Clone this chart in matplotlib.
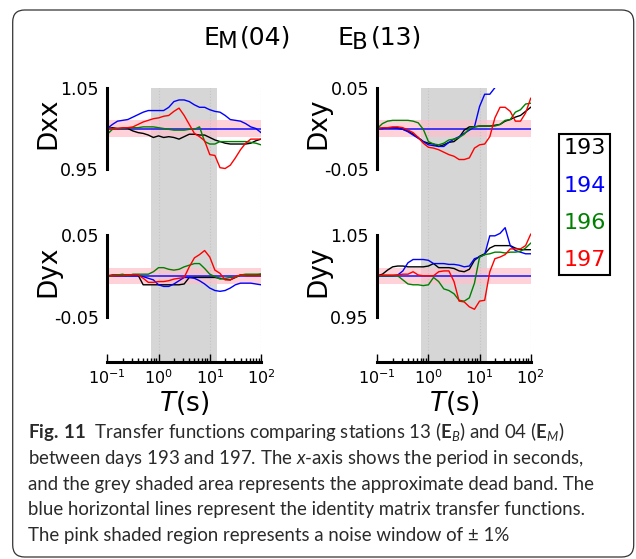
import numpy as np
import matplotlib.pyplot as plt
from matplotlib.lines import Line2D
from matplotlib.patches import FancyBboxPatch

plt.rcParams['font.family'] = 'DejaVu Sans'
plt.rcParams['mathtext.fontset'] = 'dejavusans'
# fonts used by the caption's math pieces (math_fontfamily='custom')
plt.rcParams['mathtext.rm'] = 'Lato'
plt.rcParams['mathtext.it'] = 'Lato:italic'
plt.rcParams['mathtext.bf'] = 'Lato:bold'

# period grid, 10 samples per decade from 0.1 s to 100 s
log_period = np.linspace(-1, 2, 31)
periods = 10 ** log_period

days = ['193', '194', '196', '197']
day_colors = ['black', 'blue', 'green', 'red']

dead_band = (0.7, 14.0)
noise = 0.01

dxx_193 = [1.000, 1.001, 1.000, 1.000, 1.000, 0.997, 0.995, 0.994, 0.992, 0.989, 0.991,
           0.989, 0.990, 0.989, 0.987, 0.990, 0.993, 0.993, 0.992, 0.992, 0.989,
           0.986, 0.984, 0.982, 0.981, 0.981, 0.981, 0.981, 0.982, 0.985, 0.987]
dxx_194 = [1.000, 1.005, 1.009, 1.010, 1.011, 1.014, 1.017, 1.020, 1.022, 1.022, 1.022,
           1.022, 1.026, 1.033, 1.035, 1.035, 1.033, 1.029, 1.026, 1.026, 1.023,
           1.021, 1.020, 1.016, 1.011, 1.010, 1.009, 1.006, 1.002, 1.000, 0.995]
dxx_196 = [0.993, 0.999, 1.000, 1.000, 1.001, 1.001, 1.001, 1.002, 1.002, 1.002, 1.001,
           1.000, 0.999, 0.998, 0.998, 0.998, 0.999, 0.999, 1.002, 0.984, 0.981,
           0.981, 0.984, 0.984, 0.984, 0.984, 0.984, 0.984, 0.983, 0.982, 0.980]
dxx_197 = [1.000, 1.000, 1.000, 1.001, 1.001, 1.002, 1.005, 1.008, 1.010, 1.012, 1.013,
           1.015, 1.016, 1.021, 1.025, 1.016, 1.005, 0.994, 0.990, 0.985, 0.968,
           0.967, 0.952, 0.951, 0.955, 0.964, 0.974, 0.982, 0.987, 0.987, 0.987]

dxy_193 = [0.000, 0.000, 0.001, 0.001, 0.001, -0.001, -0.003, -0.007, -0.011, -0.016, -0.018,
           -0.019, -0.022, -0.020, -0.017, -0.016, -0.011, -0.002, 0.002, 0.002, 0.003,
           0.003, 0.003, 0.004, 0.005, 0.009, 0.011, 0.014, 0.016, 0.021, 0.026]
dxy_194 = [0.000, 0.000, 0.001, 0.001, 0.000, -0.001, -0.004, -0.008, -0.012, -0.016, -0.020,
           -0.021, -0.022, -0.022, -0.017, -0.013, -0.010, -0.006, -0.002, 0.002, 0.027,
           0.042, 0.042, 0.050, 0.055, 0.055, 0.053, 0.053, 0.053, 0.053, 0.060]
dxy_196 = [0.000, 0.006, 0.009, 0.010, 0.010, 0.010, 0.010, 0.009, 0.007, -0.001, -0.016,
           -0.019, -0.020, -0.018, -0.014, -0.013, -0.011, -0.007, 0.000, 0.002, 0.003,
           0.003, 0.003, 0.003, 0.005, 0.010, 0.011, 0.020, 0.023, 0.030, 0.031]
dxy_197 = [0.000, 0.001, 0.001, 0.002, 0.002, 0.001, -0.002, -0.005, -0.011, -0.018, -0.023,
           -0.024, -0.026, -0.029, -0.032, -0.034, -0.038, -0.038, -0.036, -0.024, -0.020,
           -0.019, -0.010, 0.013, 0.026, 0.026, 0.021, 0.009, 0.009, 0.019, 0.037]

dyx_193 = [0.000, 0.001, 0.001, 0.001, 0.001, 0.001, 0.001, -0.011, -0.011, -0.011, -0.011,
           -0.011, -0.011, -0.011, -0.011, -0.010, -0.002, -0.002, -0.002, -0.002, -0.002,
           -0.002, -0.003, -0.004, -0.005, -0.002, 0.001, 0.001, 0.001, 0.001, 0.002]
dyx_194 = [0.000, 0.000, 0.000, 0.000, 0.000, 0.000, 0.000, -0.001, -0.003, -0.005, -0.011,
           -0.013, -0.013, -0.010, -0.006, -0.002, -0.002, -0.003, -0.006, -0.010, -0.015,
           -0.018, -0.019, -0.018, -0.015, -0.011, -0.009, -0.009, -0.009, -0.010, -0.011]
dyx_196 = [-0.001, 0.000, 0.001, 0.002, 0.000, 0.002, 0.002, 0.002, 0.002, 0.005, 0.010,
           0.010, 0.008, 0.007, 0.008, 0.011, 0.013, 0.015, 0.015, 0.009, 0.002,
           -0.001, -0.004, -0.003, -0.002, -0.002, 0.001, 0.002, 0.002, 0.002, 0.002]
dyx_197 = [0.000, 0.000, 0.000, 0.000, 0.001, 0.001, 0.001, -0.003, -0.008, -0.008, -0.007,
           -0.007, -0.006, -0.004, -0.003, -0.002, 0.011, 0.022, 0.026, 0.031, 0.023,
           0.007, 0.003, -0.005, -0.005, -0.001, 0.001, 0.000, 0.000, 0.000, 0.000]

dyy_193 = [1.000, 1.002, 1.007, 1.011, 1.012, 1.012, 1.011, 1.011, 1.011, 1.011, 1.012,
           1.015, 1.010, 1.010, 1.010, 1.009, 1.006, 1.005, 1.008, 1.019, 1.024,
           1.027, 1.034, 1.037, 1.037, 1.037, 1.037, 1.034, 1.032, 1.032, 1.032]
dyy_194 = [1.000, 1.000, 1.000, 1.000, 1.001, 1.006, 1.016, 1.020, 1.020, 1.020, 1.019,
           1.015, 1.015, 1.015, 1.014, 1.014, 1.013, 1.011, 1.012, 1.021, 1.023,
           1.026, 1.049, 1.049, 1.052, 1.059, 1.037, 1.031, 1.029, 1.027, 1.027]
dyy_196 = [1.000, 1.000, 1.000, 1.000, 1.000, 0.995, 0.990, 0.989, 0.989, 0.988, 0.989,
           0.998, 0.993, 0.984, 0.982, 0.978, 0.970, 0.969, 0.973, 0.991, 1.023,
           1.026, 1.027, 1.029, 1.029, 1.028, 1.029, 1.029, 1.030, 1.034, 1.040]
dyy_197 = [1.000, 1.001, 1.001, 1.001, 1.001, 1.002, 1.002, 1.005, 1.001, 1.000, 1.000,
           1.000, 1.005, 1.006, 1.006, 0.993, 0.969, 0.968, 0.962, 0.959, 0.969,
           0.970, 1.005, 1.021, 1.023, 1.026, 1.033, 1.033, 1.033, 1.037, 1.051]

caption = [
    r'$\mathbf{Fig.\:11}$  Transfer functions comparing stations 13 ($\mathbf{E}_{B}$) and 04 ($\mathbf{E}_{M}$)',
    r'between days 193 and 197. The $x$-axis shows the period in seconds,',
    'and the grey shaded area represents the approximate dead band. The',
    'blue horizontal lines represent the identity matrix transfer functions.',
    'The pink shaded region represents a noise window of \u00b1 1%',
]

W, H = 636, 559
fig = plt.figure(figsize=(W / 100, H / 100), dpi=100)


def box(x0, y0, x1, y1):
    # pixel box measured from the top-left corner -> figure fraction rect
    return [x0 / W, 1 - y1 / H, (x1 - x0) / W, (y1 - y0) / H]


panels = [
    ('Dxx', [dxx_193, dxx_194, dxx_196, dxx_197], 1.0, box(107.3, 87.7, 261, 224), (0.883, 1.05), True, 0.741),
    ('Dyx', [dyx_193, dyx_194, dyx_196, dyx_197], 0.0, box(107.3, 224, 261, 361.5), (-0.105, 0.0635), False, 0.658),
    ('Dxy', [dxy_193, dxy_194, dxy_196, dxy_197], 0.0, box(377.3, 87.7, 530.7, 224), (-0.117, 0.05), True, 0.741),
    ('Dyy', [dyy_193, dyy_194, dyy_196, dyy_197], 1.0, box(377.3, 224, 530.7, 361.5), (0.895, 1.0635), False, 0.658),
]

for name, series, ident, rect, ylim, top_row, ylab_y in panels:
    ax = fig.add_axes(rect)
    ax.set_xscale('log')
    ax.axvspan(*dead_band, color='#d6d6d6', lw=0, zorder=0.5)
    ax.fill_between(periods, ident - noise, ident + noise, color='pink', alpha=0.7, lw=0)
    # dotted guides at the decades inside the plot
    for p in [1, 10, 100]:
        ax.axvline(p, ls=':', color='#c4c4c4', lw=0.8, zorder=1.5)
    ax.plot(periods, np.full_like(periods, ident), color='blue', lw=1.2, alpha=0.85)
    for vals, c in zip(series, day_colors):
        ax.plot(periods, vals, color=c, lw=1.0)

    ax.set_xlim(0.1, 100)
    ax.set_ylim(*ylim)

    for s in ['top', 'right']:
        ax.spines[s].set_visible(False)
    ax.spines['left'].set_linewidth(2.2)
    ax.spines['left'].set_bounds(ident - 0.05, ident + 0.05)
    ax.set_yticks([ident - 0.05, ident + 0.05])
    ax.set_yticklabels(['%.2f' % (ident - 0.05), '%.2f' % (ident + 0.05)])
    ax.tick_params(axis='y', length=0, pad=6, labelsize=12.5)
    ax.set_ylabel(name, fontsize=19)
    ax.yaxis.set_label_coords(-0.30, ylab_y)

    if top_row:
        ax.spines['bottom'].set_visible(False)
        ax.tick_params(axis='x', which='both', bottom=False, labelbottom=False)
    else:
        ax.spines['bottom'].set_linewidth(2.2)
        ax.spines['bottom'].set_bounds(0.1, 100)
        ax.tick_params(axis='x', which='both', direction='in', width=1, labelsize=11.5, pad=5)
        ax.tick_params(axis='x', which='major', length=6)
        ax.tick_params(axis='x', which='minor', length=3)
        ax.set_xlabel('$T$(s)', fontsize=19)
        ax.xaxis.set_label_coords(0.5, -0.2)
        ax.xaxis.label.set_va('top')

# station headers
fig.text(203 / W, 1 - 45 / H, 'E', fontsize=18)
fig.text(217.5 / W, 1 - 48.5 / H, 'M', fontsize=16.5)
fig.text(239.5 / W, 1 - 45 / H, '(04)', fontsize=18)
fig.text(337.5 / W, 1 - 45 / H, 'E', fontsize=18)
fig.text(352 / W, 1 - 49 / H, 'B', fontsize=16.5)
fig.text(370.5 / W, 1 - 45 / H, '(13)', fontsize=18)

# day legend, text coloured like the curves
handles = [Line2D([], [], color=c) for c in day_colors]
leg = fig.legend(handles, days, loc='upper left', bbox_to_anchor=(559 / W, 1 - 134 / H),
                 handlelength=0, handletextpad=0, fontsize=16, borderpad=0.2,
                 labelspacing=0.78, borderaxespad=0, fancybox=False, framealpha=1)
leg.get_frame().set_edgecolor('black')
leg.get_frame().set_linewidth(1.5)
for txt, c in zip(leg.get_texts(), day_colors):
    txt.set_color(c)

# caption
for i, line in enumerate(caption):
    fig.text(28 / W, 1 - (438 + 25.8 * i) / H, line, fontsize=13.4, family='Lato',
             math_fontfamily='custom', color='#2a2a2a', va='baseline')

# rounded frame around figure and caption
frame = FancyBboxPatch((0.127, 0.02), 6.21, 5.47, boxstyle='round,pad=0,rounding_size=0.12',
                       transform=fig.dpi_scale_trans, fc='none', ec='#333333', lw=0.9)
fig.add_artist(frame)

fig.savefig('out.png', dpi=100)
